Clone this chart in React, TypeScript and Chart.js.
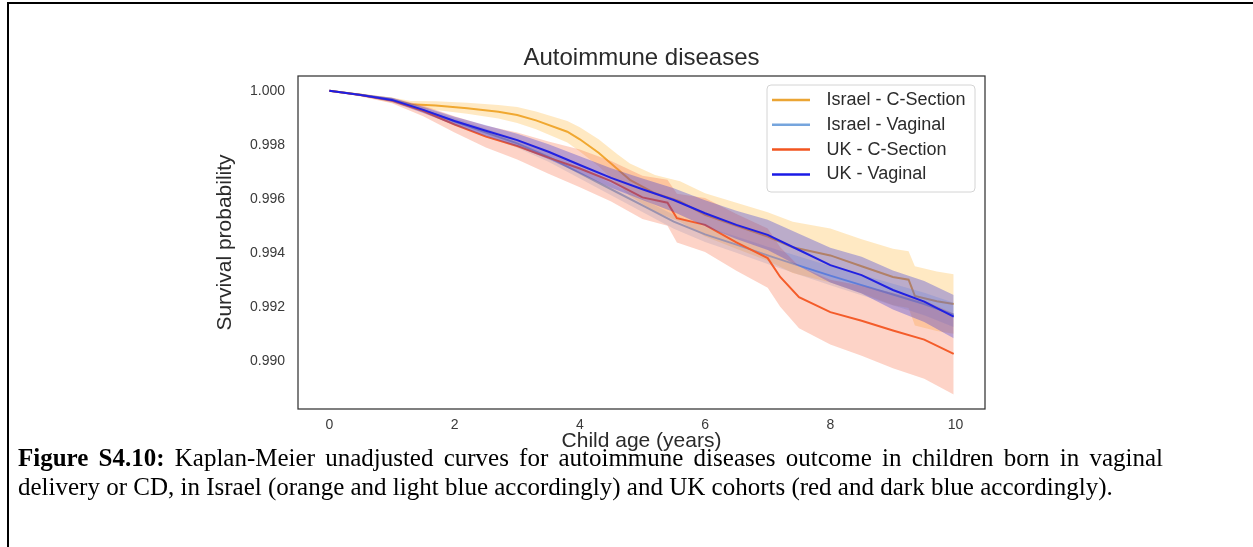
import React, { useEffect, useRef } from "react";
import { Chart, registerables } from "chart.js";

Chart.register(...registerables);

// ---------- data ----------
const chartTitle = "Autoimmune diseases";
const xAxisLabel = "Child age (years)";
const yAxisLabel = "Survival probability";
const seriesLabels = ["Israel - C-Section", "Israel - Vaginal", "UK - C-Section", "UK - Vaginal"];
const xTicks = [0, 2, 4, 6, 8, 10];
const yTicks = [0.99, 0.992, 0.994, 0.996, 0.998, 1.0];

// Israel - C-Section
const israelCsTime = [0, 0.5, 1.0, 1.3, 1.7, 2.2, 2.7, 3.0, 3.3, 3.8, 4.0, 4.3, 4.6, 4.8, 5.2, 5.6, 6.0, 6.5, 7.0, 7.4, 8.0, 8.5, 9.0, 9.25, 9.35, 9.7, 9.97];
const israelCsSurv = [1.0, 0.99985, 0.99965, 0.9995, 0.99945, 0.99935, 0.99922, 0.9991, 0.9989, 0.99848, 0.9982, 0.9977, 0.9971, 0.9967, 0.9962, 0.9959, 0.9954, 0.995, 0.9946, 0.9942, 0.9939, 0.9935, 0.9931, 0.993, 0.9924, 0.9922, 0.9921];
const israelCsUpper = [1.0, 0.9999, 0.99975, 0.99962, 0.99961, 0.99955, 0.99947, 0.9994, 0.99923, 0.99888, 0.99865, 0.9982, 0.99765, 0.9973, 0.99688, 0.99665, 0.9962, 0.99585, 0.9955, 0.99515, 0.9949, 0.9945, 0.99415, 0.99405, 0.9935, 0.9933, 0.9932];
const israelCsLower = [1.0, 0.9998, 0.99955, 0.99938, 0.99929, 0.99915, 0.99897, 0.9988, 0.99857, 0.99808, 0.99775, 0.9972, 0.99655, 0.9961, 0.99552, 0.99515, 0.9946, 0.99415, 0.9937, 0.99325, 0.9929, 0.9925, 0.99205, 0.99195, 0.9913, 0.9911, 0.991];

// Israel - Vaginal
const israelVTime = [0, 0.5, 1, 1.5, 2, 2.5, 3, 3.5, 4, 4.5, 5, 5.5, 6, 6.5, 7, 7.5, 8, 8.5, 9, 9.5, 9.97];
const israelVSurv = [1.0, 0.99985, 0.99968, 0.99928, 0.99886, 0.99845, 0.99805, 0.99755, 0.99695, 0.99635, 0.99575, 0.99515, 0.99468, 0.9943, 0.9939, 0.99352, 0.99315, 0.9928, 0.99245, 0.9921, 0.9917];
const israelVUpper = [1.0, 0.99988, 0.99974, 0.99938, 0.99898, 0.99859, 0.99821, 0.99773, 0.99715, 0.99657, 0.99599, 0.99541, 0.99496, 0.9946, 0.99422, 0.99386, 0.99351, 0.99318, 0.99285, 0.99252, 0.99215];
const israelVLower = [1.0, 0.99982, 0.99962, 0.99918, 0.99874, 0.99831, 0.99789, 0.99737, 0.99675, 0.99613, 0.99551, 0.99489, 0.9944, 0.994, 0.99358, 0.99318, 0.99279, 0.99242, 0.99205, 0.99168, 0.99125];

// UK - C-Section
const ukCsTime = [0, 0.5, 1, 1.5, 2, 2.5, 3, 3.5, 4, 4.5, 5, 5.4, 5.55, 6, 6.5, 7, 7.2, 7.5, 8, 8.5, 9, 9.5, 9.97];
const ukCsSurv = [1.0, 0.99984, 0.99964, 0.99925, 0.99875, 0.9983, 0.99795, 0.99752, 0.99712, 0.99665, 0.99605, 0.99585, 0.99528, 0.99503, 0.99438, 0.9938, 0.9931, 0.99235, 0.9918, 0.99148, 0.99112, 0.99078, 0.99025];
const ukCsUpper = [1.0, 0.99989, 0.99974, 0.99945, 0.99905, 0.9987, 0.99845, 0.99812, 0.99782, 0.9974, 0.99685, 0.9967, 0.99618, 0.99603, 0.99543, 0.9949, 0.9942, 0.9935, 0.993, 0.99278, 0.99252, 0.99223, 0.99175];
const ukCsLower = [1.0, 0.99979, 0.99954, 0.99905, 0.99845, 0.9979, 0.99745, 0.99692, 0.99642, 0.9959, 0.99525, 0.995, 0.99438, 0.99403, 0.99333, 0.9927, 0.992, 0.9912, 0.9906, 0.99018, 0.98972, 0.98933, 0.98875];

// UK - Vaginal
const ukVTime = [0, 0.5, 1, 1.5, 2, 2.5, 3, 3.5, 4, 4.5, 5, 5.5, 6, 6.5, 7, 7.5, 8, 8.5, 9, 9.5, 9.97];
const ukVSurv = [1.0, 0.99984, 0.99966, 0.99929, 0.99888, 0.99852, 0.99817, 0.99774, 0.99725, 0.99677, 0.99635, 0.99595, 0.99546, 0.99503, 0.99466, 0.9941, 0.99354, 0.99317, 0.99262, 0.99219, 0.99163];
const ukVUpper = [1.0, 0.99988, 0.99974, 0.99941, 0.99904, 0.99872, 0.99841, 0.99802, 0.99757, 0.99713, 0.99675, 0.99639, 0.99594, 0.99555, 0.99522, 0.9947, 0.99418, 0.99385, 0.99334, 0.99295, 0.99243];
const ukVLower = [1.0, 0.9998, 0.99958, 0.99917, 0.99872, 0.99832, 0.99793, 0.99746, 0.99693, 0.99641, 0.99595, 0.99551, 0.99498, 0.99451, 0.9941, 0.9935, 0.9929, 0.99249, 0.9919, 0.99143, 0.99083];

const captionBold = "Figure S4.10:";
const captionLine1 = " Kaplan-Meier unadjusted curves for autoimmune diseases outcome in children born in vaginal";
const captionLine2 = "delivery or CD, in Israel (orange and light blue accordingly) and UK cohorts (red and dark blue accordingly).";

// ---------- styles ----------
const lineColors = ["#EBA534", "#76A5DD", "#F2551F", "#1A1AE6"];
const bandColors = ["rgba(255,176,40,0.28)", "rgba(110,160,225,0.25)", "rgba(250,110,70,0.30)", "rgba(50,50,215,0.33)"];
const SANS = "'Liberation Sans', Arial, Helvetica, sans-serif";
const TEXT = "#2b2b2b";

const seriesDefs = [
  { t: israelCsTime, s: israelCsSurv, u: israelCsUpper, l: israelCsLower },
  { t: israelVTime, s: israelVSurv, u: israelVUpper, l: israelVLower },
  { t: ukCsTime, s: ukCsSurv, u: ukCsUpper, l: ukCsLower },
  { t: ukVTime, s: ukVSurv, u: ukVUpper, l: ukVLower },
];

const pts = (t: number[], v: number[]) => t.map((x, i) => ({ x, y: v[i] }));

function buildDatasets() {
  const ds: any[] = [];
  const n = seriesDefs.length;
  seriesDefs.forEach((sd, i) => {
    const base = ds.length;
    const lineOrder = (n - i) * 2;
    ds.push({
      label: seriesLabels[i],
      data: pts(sd.t, sd.s),
      borderColor: lineColors[i],
      backgroundColor: lineColors[i],
      borderWidth: 2,
      pointRadius: 0,
      tension: 0,
      fill: false,
      order: lineOrder,
    });
    ds.push({
      label: "",
      data: pts(sd.t, sd.u),
      borderColor: "rgba(0,0,0,0)",
      borderWidth: 0,
      pointRadius: 0,
      tension: 0,
      backgroundColor: bandColors[i],
      fill: { target: base + 2, above: bandColors[i], below: bandColors[i] },
      order: lineOrder - 1,
    });
    ds.push({
      label: "",
      data: pts(sd.t, sd.l),
      borderColor: "rgba(0,0,0,0)",
      borderWidth: 0,
      pointRadius: 0,
      tension: 0,
      fill: false,
      order: lineOrder - 1,
    });
  });
  return ds;
}

const decorPlugin = {
  id: "decor",
  afterDatasetsDraw(chart: any) {
    const { ctx, chartArea: a } = chart;
    ctx.save();
    // axes frame
    ctx.strokeStyle = "#333333";
    ctx.lineWidth = 1.25;
    ctx.strokeRect(a.left, a.top, a.right - a.left, a.bottom - a.top);
    // title
    ctx.fillStyle = TEXT;
    ctx.font = `24px ${SANS}`;
    ctx.textAlign = "center";
    ctx.textBaseline = "middle";
    ctx.fillText(chartTitle, (a.left + a.right) / 2, a.top - 17.6);
    // legend
    const bw = 208, bh = 107;
    const bx = a.right - 218, by = a.top + 9;
    const r = 4;
    ctx.beginPath();
    ctx.moveTo(bx + r, by);
    ctx.lineTo(bx + bw - r, by);
    ctx.quadraticCurveTo(bx + bw, by, bx + bw, by + r);
    ctx.lineTo(bx + bw, by + bh - r);
    ctx.quadraticCurveTo(bx + bw, by + bh, bx + bw - r, by + bh);
    ctx.lineTo(bx + r, by + bh);
    ctx.quadraticCurveTo(bx, by + bh, bx, by + bh - r);
    ctx.lineTo(bx, by + r);
    ctx.quadraticCurveTo(bx, by, bx + r, by);
    ctx.closePath();
    ctx.fillStyle = "rgba(255,255,255,0.85)";
    ctx.fill();
    ctx.strokeStyle = "#d4d4d4";
    ctx.lineWidth = 1;
    ctx.stroke();
    ctx.font = `18px ${SANS}`;
    ctx.textAlign = "left";
    ctx.textBaseline = "middle";
    seriesLabels.forEach((lab, i) => {
      const y = by + 15 + i * 24.8;
      ctx.strokeStyle = lineColors[i];
      ctx.lineWidth = 2.5;
      ctx.beginPath();
      ctx.moveTo(bx + 5, y);
      ctx.lineTo(bx + 43, y);
      ctx.stroke();
      ctx.fillStyle = TEXT;
      ctx.fillText(lab, bx + 59.5, y);
    });
    ctx.restore();
  },
};

export default function App() {
  const ref = useRef<HTMLCanvasElement>(null);
  useEffect(() => {
    if (!ref.current) return;
    const chart = new Chart(ref.current, {
      type: "line",
      data: { datasets: buildDatasets() },
      options: {
        animation: false,
        responsive: false,
        maintainAspectRatio: false,
        events: [],
        layout: { padding: { left: 0, right: 268, top: 76, bottom: 0 } },
        plugins: {
          legend: { display: false },
          title: { display: false },
          tooltip: { enabled: false },
        },
        scales: {
          x: {
            type: "linear",
            min: -0.5,
            max: 10.47,
            grid: { display: false, drawTicks: false },
            border: { display: false },
            afterBuildTicks: (s: any) => {
              s.ticks = xTicks.map((v) => ({ value: v }));
            },
            afterFit: (s: any) => {
              s.height = 61;
            },
            ticks: {
              padding: 8,
              color: "#3a3a3a",
              font: { family: SANS, size: 14 },
              callback: (v: any) => String(v),
            },
            title: {
              display: true,
              text: xAxisLabel,
              color: TEXT,
              font: { family: SANS, size: 21 },
              padding: { top: 0, bottom: 16 },
            },
          },
          y: {
            type: "linear",
            min: 0.988211,
            max: 1.000545,
            grid: { display: false, drawTicks: false },
            border: { display: false },
            afterBuildTicks: (s: any) => {
              s.ticks = yTicks.map((v) => ({ value: v }));
            },
            afterFit: (s: any) => {
              s.width = 298;
            },
            ticks: {
              padding: 13,
              color: "#3a3a3a",
              font: { family: SANS, size: 14 },
              callback: (v: any) => Number(v).toFixed(3),
            },
            title: {
              display: true,
              text: yAxisLabel,
              color: TEXT,
              font: { family: SANS, size: 21 },
              padding: { top: 213, bottom: 0 },
            },
          },
        },
      } as any,
      plugins: [decorPlugin],
    });
    return () => chart.destroy();
  }, []);

  const capStyle: React.CSSProperties = {
    position: "absolute",
    left: 18,
    whiteSpace: "nowrap",
    fontFamily: "'Liberation Serif', 'Times New Roman', serif",
    fontSize: 25,
    lineHeight: "29px",
    color: "#000",
  };

  return (
    <div style={{ position: "absolute", left: 0, top: 0, width: 1253, height: 547, background: "#fff", overflow: "hidden" }}>
      <div style={{ position: "absolute", left: 7, top: 2, width: 1246, height: 2, background: "#000" }} />
      <div style={{ position: "absolute", left: 7, top: 2, width: 2, height: 545, background: "#000" }} />
      <canvas ref={ref} width={1253} height={470} style={{ position: "absolute", left: 0, top: 0, width: 1253, height: 470 }} />
      <div style={{ ...capStyle, top: 443, width: 1145, whiteSpace: "normal", textAlign: "justify", textAlignLast: "justify" }}>
        <b>{captionBold}</b>
        {captionLine1}
      </div>
      <div style={{ ...capStyle, top: 472 }}>{captionLine2}</div>
    </div>
  );
}
